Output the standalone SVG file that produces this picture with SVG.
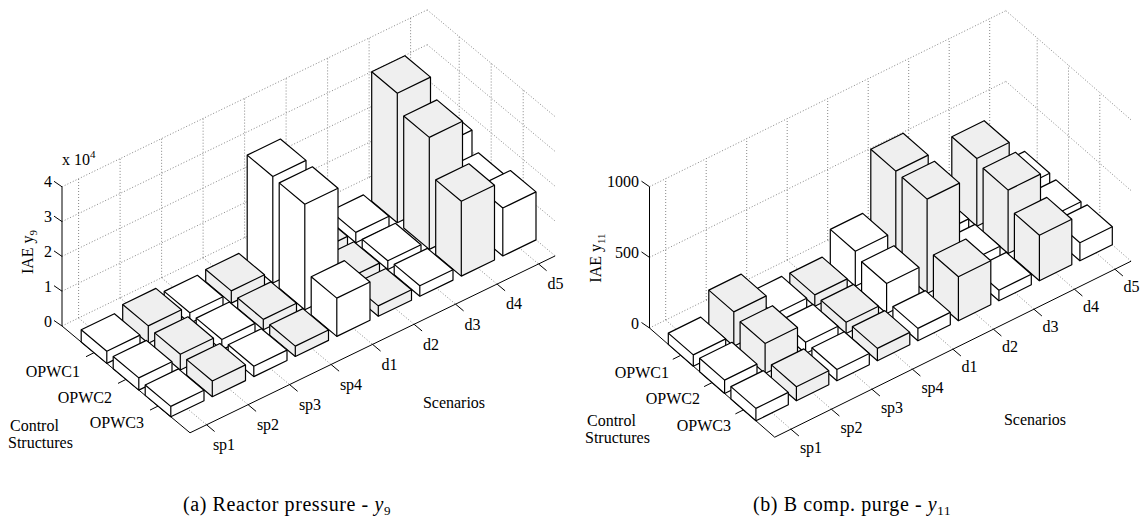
<svg xmlns="http://www.w3.org/2000/svg" width="1146" height="519" viewBox="0 0 1146 519">
<style>
.bg{fill:#ffffff}
.grid{fill:none;stroke:#707070;stroke-width:0.85;stroke-dasharray:1 2}
.ax{fill:none;stroke:#000;stroke-width:1}
.w{fill:#ffffff;stroke:#000;stroke-width:1.2;stroke-linejoin:round}
.g{fill:#efefef;stroke:#000;stroke-width:1.2;stroke-linejoin:round}
.e{fill:none;stroke:#000;stroke-width:1.2;stroke-linejoin:round}
text{font-family:"Liberation Serif","Times New Roman",serif;font-size:16px;fill:#000}
.m{text-anchor:middle}
.r{text-anchor:end}
.cap{font-size:20px;letter-spacing:0.6px}
</style>
<rect class="bg" x="0" y="0" width="1146" height="519"/>

<!-- ===== Chart (a) ===== -->
<g id="a-grid">
<path class="grid" d="M62,326 L427.2,149.1 M62,291.2 L427.2,114.3 M62,256.4 L427.2,79.5 M62,221.6 L427.2,44.7 M62,186.8 L427.2,9.9
M427.2,149.1 L555.2,255.9 M427.2,114.3 L555.2,221.1 M427.2,79.5 L555.2,186.3 M427.2,44.7 L555.2,151.5 M427.2,9.9 L555.2,116.7
M78.6,318 L78.6,178.8 M120.1,297.9 L120.1,158.7 M161.6,277.8 L161.6,138.6 M203.1,257.7 L203.1,118.5 M244.6,237.6 L244.6,98.4 M286.1,217.5 L286.1,78.3 M327.6,197.4 L327.6,58.2 M369.1,177.3 L369.1,38.1 M410.6,157.2 L410.6,18
M459.2,175.8 L459.2,36.6 M491.2,202.5 L491.2,63.3 M523.2,229.2 L523.2,90
M94,352.7 L459.2,175.8 M126,379.4 L491.2,202.5 M158,406.1 L523.2,229.2
M78.6,318 L206.6,424.8 M120.1,297.9 L248.1,404.7 M161.6,277.8 L289.6,384.6 M203.1,257.7 L331.1,364.5 M244.6,237.6 L372.6,344.4 M286.1,217.5 L414.1,324.3 M327.6,197.4 L455.6,304.2 M369.1,177.3 L497.1,284.1 M410.6,157.2 L538.6,264"/>
</g>
<g id="a-axes">
<path class="ax" d="M62,326 L62,186.8 M62,326 L190,432.8 L555.2,255.9
M62,326 l-8,-5.5 M62,291.2 l-8,-5.5 M62,256.4 l-8,-5.5 M62,221.6 l-8,-5.5 M62,186.8 l-8,-5.5
M94,352.7 l-8,4 M126,379.4 l-8,4 M158,406.1 l-8,4
M206.6,424.8 l8,6.7 M248.1,404.7 l8,6.7 M289.6,384.6 l8,6.7 M331.1,364.5 l8,6.7 M372.6,344.4 l8,6.7 M414.1,324.3 l8,6.7 M455.6,304.2 l8,6.7 M497.1,284.1 l8,6.7 M538.6,264 l8,6.7"/>
</g>
<g id="a-bars">
<g id="a-OPWC1-d5"><path class="w" d="M413.2,124.8 L446.4,108.7 L472,130.1 L472,186.5 L438.8,202.6 L413.2,181.2 Z"/><path class="e" d="M413.2,124.8 L438.8,146.2 L472,130.1 M438.8,146.2 L438.8,202.6"/></g>
<g id="a-OPWC1-d4"><path class="g" d="M371.7,71.8 L404.9,55.7 L430.5,77.1 L430.5,206.6 L397.3,222.7 L371.7,201.3 Z"/><path class="e" d="M371.7,71.8 L397.3,93.2 L430.5,77.1 M397.3,93.2 L397.3,222.7"/></g>
<g id="a-OPWC1-d3"><path class="w" d="M330.2,211 L363.4,194.9 L389,216.3 L389,226.7 L355.8,242.8 L330.2,221.4 Z"/><path class="e" d="M330.2,211 L355.8,232.4 L389,216.3 M355.8,232.4 L355.8,242.8"/></g>
<g id="a-OPWC1-d2"><path class="g" d="M288.7,231.1 L321.9,215 L347.5,236.4 L347.5,246.8 L314.3,262.9 L288.7,241.5 Z"/><path class="e" d="M288.7,231.1 L314.3,252.5 L347.5,236.4 M314.3,252.5 L314.3,262.9"/></g>
<g id="a-OPWC1-d1"><path class="w" d="M247.2,155.1 L280.4,139 L306,160.4 L306,266.9 L272.8,283 L247.2,261.6 Z"/><path class="e" d="M247.2,155.1 L272.8,176.5 L306,160.4 M272.8,176.5 L272.8,283"/></g>
<g id="a-OPWC1-sp4"><path class="g" d="M205.7,269.5 L238.9,253.4 L264.5,274.8 L264.5,287 L231.3,303.1 L205.7,281.7 Z"/><path class="e" d="M205.7,269.5 L231.3,290.9 L264.5,274.8 M231.3,290.9 L231.3,303.1"/></g>
<g id="a-OPWC1-sp3"><path class="w" d="M164.2,291.4 L197.4,275.3 L223,296.7 L223,307.1 L189.8,323.2 L164.2,301.8 Z"/><path class="e" d="M164.2,291.4 L189.8,312.8 L223,296.7 M189.8,312.8 L189.8,323.2"/></g>
<g id="a-OPWC1-sp2"><path class="g" d="M122.7,304.5 L155.9,288.4 L181.5,309.8 L181.5,327.2 L148.3,343.3 L122.7,321.9 Z"/><path class="e" d="M122.7,304.5 L148.3,325.9 L181.5,309.8 M148.3,325.9 L148.3,343.3"/></g>
<g id="a-OPWC1-sp1"><path class="w" d="M81.2,329.8 L114.4,313.7 L140,335.1 L140,347.3 L106.8,363.4 L81.2,342 Z"/><path class="e" d="M81.2,329.8 L106.8,351.2 L140,335.1 M106.8,351.2 L106.8,363.4"/></g>

<g id="a-OPWC2-d5"><path class="w" d="M445.2,168.9 L478.4,152.8 L504,174.2 L504,213.2 L470.8,229.3 L445.2,207.9 Z"/><path class="e" d="M445.2,168.9 L470.8,190.3 L504,174.2 M470.8,190.3 L470.8,229.3"/></g>
<g id="a-OPWC2-d4"><path class="g" d="M403.7,116 L436.9,99.9 L462.5,121.3 L462.5,233.3 L429.3,249.4 L403.7,228 Z"/><path class="e" d="M403.7,116 L429.3,137.4 L462.5,121.3 M429.3,137.4 L429.3,249.4"/></g>
<g id="a-OPWC2-d3"><path class="w" d="M362.2,239.4 L395.4,223.3 L421,244.7 L421,253.4 L387.8,269.5 L362.2,248.1 Z"/><path class="e" d="M362.2,239.4 L387.8,260.8 L421,244.7 M387.8,260.8 L387.8,269.5"/></g>
<g id="a-OPWC2-d2"><path class="g" d="M320.7,257.8 L353.9,241.7 L379.5,263.1 L379.5,273.5 L346.3,289.6 L320.7,268.2 Z"/><path class="e" d="M320.7,257.8 L346.3,279.2 L379.5,263.1 M346.3,279.2 L346.3,289.6"/></g>
<g id="a-OPWC2-d1"><path class="w" d="M279.2,182.9 L312.4,166.8 L338,188.2 L338,293.6 L304.8,309.7 L279.2,288.3 Z"/><path class="e" d="M279.2,182.9 L304.8,204.3 L338,188.2 M304.8,204.3 L304.8,309.7"/></g>
<g id="a-OPWC2-sp4"><path class="g" d="M237.7,298 L270.9,281.9 L296.5,303.3 L296.5,313.7 L263.3,329.8 L237.7,308.4 Z"/><path class="e" d="M237.7,298 L263.3,319.4 L296.5,303.3 M263.3,319.4 L263.3,329.8"/></g>
<g id="a-OPWC2-sp3"><path class="w" d="M196.2,318.1 L229.4,302 L255,323.4 L255,333.8 L221.8,349.9 L196.2,328.5 Z"/><path class="e" d="M196.2,318.1 L221.8,339.5 L255,323.4 M221.8,339.5 L221.8,349.9"/></g>
<g id="a-OPWC2-sp2"><path class="g" d="M154.7,332.9 L187.9,316.8 L213.5,338.2 L213.5,353.9 L180.3,370 L154.7,348.6 Z"/><path class="e" d="M154.7,332.9 L180.3,354.3 L213.5,338.2 M180.3,354.3 L180.3,370"/></g>
<g id="a-OPWC2-sp1"><path class="w" d="M113.2,356.5 L146.4,340.4 L172,361.8 L172,374 L138.8,390.1 L113.2,368.7 Z"/><path class="e" d="M113.2,356.5 L138.8,377.9 L172,361.8 M138.8,377.9 L138.8,390.1"/></g>

<g id="a-OPWC3-d5"><path class="w" d="M477.2,186.6 L510.4,170.5 L536,191.9 L536,239.9 L502.8,256 L477.2,234.6 Z"/><path class="e" d="M477.2,186.6 L502.8,208 L536,191.9 M502.8,208 L502.8,256"/></g>
<g id="a-OPWC3-d4"><path class="g" d="M435.7,179.9 L468.9,163.8 L494.5,185.2 L494.5,260 L461.3,276.1 L435.7,254.7 Z"/><path class="e" d="M435.7,179.9 L461.3,201.3 L494.5,185.2 M461.3,201.3 L461.3,276.1"/></g>
<g id="a-OPWC3-d3"><path class="w" d="M394.2,264.4 L427.4,248.4 L453,269.7 L453,280.1 L419.8,296.2 L394.2,274.8 Z"/><path class="e" d="M394.2,264.4 L419.8,285.8 L453,269.7 M419.8,285.8 L419.8,296.2"/></g>
<g id="a-OPWC3-d2"><path class="g" d="M352.7,284.5 L385.9,268.5 L411.5,289.8 L411.5,300.2 L378.3,316.3 L352.7,294.9 Z"/><path class="e" d="M352.7,284.5 L378.3,305.9 L411.5,289.8 M378.3,305.9 L378.3,316.3"/></g>
<g id="a-OPWC3-d1"><path class="w" d="M311.2,276.7 L344.4,260.6 L370,282 L370,320.3 L336.8,336.4 L311.2,315 Z"/><path class="e" d="M311.2,276.7 L336.8,298.1 L370,282 M336.8,298.1 L336.8,336.4"/></g>
<g id="a-OPWC3-sp4"><path class="g" d="M269.7,324.7 L302.9,308.6 L328.5,330 L328.5,340.4 L295.3,356.5 L269.7,335.1 Z"/><path class="e" d="M269.7,324.7 L295.3,346.1 L328.5,330 M295.3,346.1 L295.3,356.5"/></g>
<g id="a-OPWC3-sp3"><path class="w" d="M228.2,344.8 L261.4,328.7 L287,350.1 L287,360.5 L253.8,376.6 L228.2,355.2 Z"/><path class="e" d="M228.2,344.8 L253.8,366.2 L287,350.1 M253.8,366.2 L253.8,376.6"/></g>
<g id="a-OPWC3-sp2"><path class="g" d="M186.7,359.6 L219.9,343.5 L245.5,364.9 L245.5,380.6 L212.3,396.7 L186.7,375.3 Z"/><path class="e" d="M186.7,359.6 L212.3,381 L245.5,364.9 M212.3,381 L212.3,396.7"/></g>
<g id="a-OPWC3-sp1"><path class="w" d="M145.2,385 L178.4,368.9 L204,390.3 L204,400.7 L170.8,416.8 L145.2,395.4 Z"/><path class="e" d="M145.2,385 L170.8,406.4 L204,390.3 M170.8,406.4 L170.8,416.8"/></g>
</g>
<g id="a-labels">
<text class="r" x="52" y="327">0</text>
<text class="r" x="52" y="292">1</text>
<text class="r" x="52" y="257">2</text>
<text class="r" x="52" y="222">3</text>
<text class="r" x="52" y="187">4</text>
<text x="62" y="165">x 10<tspan font-size="11" dy="-7">4</tspan></text>
<text class="m" transform="translate(33,252) rotate(-90)">IAE y<tspan font-size="11" dy="4">9</tspan></text>
<text class="r" x="80" y="377">OPWC1</text>
<text class="r" x="112" y="403">OPWC2</text>
<text class="r" x="144" y="428">OPWC3</text>
<text x="10" y="431">Control</text>
<text x="8" y="448">Structures</text>
<text class="m" x="224" y="450">sp1</text>
<text class="m" x="268" y="430">sp2</text>
<text class="m" x="310" y="410">sp3</text>
<text class="m" x="351" y="390">sp4</text>
<text class="m" x="389.5" y="370">d1</text>
<text class="m" x="431" y="349.5">d2</text>
<text class="m" x="472.5" y="329.5">d3</text>
<text class="m" x="514" y="309">d4</text>
<text class="m" x="555.5" y="289">d5</text>
<text class="m" x="454" y="408">Scenarios</text>
<text class="cap m" x="287" y="511">(a) Reactor pressure - <tspan font-style="italic">y</tspan><tspan font-size="13" dy="4">9</tspan></text>
</g>

<!-- ===== Chart (b) ===== -->
<g id="b-grid">
<path class="grid" d="M649.5,328 L1005.9,152 M649.5,257.4 L1005.9,81.4 M649.5,186.7 L1005.9,10.7
M1005.9,152 L1131.1,261.2 M1005.9,81.4 L1131.1,190.6 M1005.9,10.7 L1131.1,119.9
M665.7,320 L665.7,178.7 M706.2,300 L706.2,158.7 M746.7,280 L746.7,138.7 M787.2,260 L787.2,118.7 M827.7,240 L827.7,98.7 M868.2,220 L868.2,78.7 M908.7,200 L908.7,58.7 M949.2,180 L949.2,38.7 M989.7,160 L989.7,18.7
M1037.2,179.3 L1037.2,38 M1068.5,206.6 L1068.5,65.3 M1099.8,233.9 L1099.8,92.6
M680.8,355.3 L1037.2,179.3 M712.1,382.6 L1068.5,206.6 M743.4,409.9 L1099.8,233.9
M665.7,320 L790.9,429.2 M706.2,300 L831.4,409.2 M746.7,280 L871.9,389.2 M787.2,260 L912.4,369.2 M827.7,240 L952.9,349.2 M868.2,220 L993.4,329.2 M908.7,200 L1033.9,309.2 M949.2,180 L1074.4,289.2 M989.7,160 L1114.9,269.2"/>
</g>
<g id="b-axes">
<path class="ax" d="M649.5,328 L649.5,186.7 M649.5,328 L774.7,437.2 L1131.1,261.2
M649.5,328 l-8,-5.5 M649.5,257.4 l-8,-5.5 M649.5,186.7 l-8,-5.5
M680.8,355.3 l-8,4 M712.1,382.6 l-8,4 M743.4,409.9 l-8,4
M790.9,429.2 l8,6.8 M831.4,409.2 l8,6.8 M871.9,389.2 l8,6.8 M912.4,369.2 l8,6.8 M952.9,349.2 l8,6.8 M993.4,329.2 l8,6.8 M1033.9,309.2 l8,6.8 M1074.4,289.2 l8,6.8 M1114.9,269.2 l8,6.8"/>
</g>
<g id="b-bars">
<g id="b-OPWC1-d5"><path class="w" d="M992.3,167.4 L1024.7,151.4 L1049.7,173.2 L1049.7,190.2 L1017.3,206.2 L992.3,184.4 Z"/><path class="e" d="M992.3,167.4 L1017.3,189.2 L1049.7,173.2 M1017.3,189.2 L1017.3,206.2"/></g>
<g id="b-OPWC1-d4"><path class="g" d="M951.8,136.7 L984.2,120.7 L1009.2,142.5 L1009.2,210.2 L976.8,226.2 L951.8,204.4 Z"/><path class="e" d="M951.8,136.7 L976.8,158.5 L1009.2,142.5 M976.8,158.5 L976.8,226.2"/></g>
<g id="b-OPWC1-d3"><path class="w" d="M911.3,213.1 L943.7,197.1 L968.7,218.9 L968.7,230.2 L936.3,246.2 L911.3,224.4 Z"/><path class="e" d="M911.3,213.1 L936.3,234.9 L968.7,218.9 M936.3,234.9 L936.3,246.2"/></g>
<g id="b-OPWC1-d2"><path class="g" d="M870.8,149.3 L903.2,133.3 L928.2,155.1 L928.2,250.2 L895.8,266.2 L870.8,244.4 Z"/><path class="e" d="M870.8,149.3 L895.8,171.1 L928.2,155.1 M895.8,171.1 L895.8,266.2"/></g>
<g id="b-OPWC1-d1"><path class="w" d="M830.3,229.4 L862.7,213.4 L887.7,235.2 L887.7,270.2 L855.3,286.2 L830.3,264.4 Z"/><path class="e" d="M830.3,229.4 L855.3,251.2 L887.7,235.2 M855.3,251.2 L855.3,286.2"/></g>
<g id="b-OPWC1-sp4"><path class="g" d="M789.8,273.1 L822.2,257.1 L847.2,278.9 L847.2,290.2 L814.8,306.2 L789.8,284.4 Z"/><path class="e" d="M789.8,273.1 L814.8,294.9 L847.2,278.9 M814.8,294.9 L814.8,306.2"/></g>
<g id="b-OPWC1-sp3"><path class="w" d="M749.3,292.4 L781.7,276.4 L806.7,298.2 L806.7,310.2 L774.3,326.2 L749.3,304.4 Z"/><path class="e" d="M749.3,292.4 L774.3,314.2 L806.7,298.2 M774.3,314.2 L774.3,326.2"/></g>
<g id="b-OPWC1-sp2"><path class="g" d="M708.8,290.1 L741.2,274.1 L766.2,295.9 L766.2,330.2 L733.8,346.2 L708.8,324.4 Z"/><path class="e" d="M708.8,290.1 L733.8,311.9 L766.2,295.9 M733.8,311.9 L733.8,346.2"/></g>
<g id="b-OPWC1-sp1"><path class="w" d="M668.3,333.1 L700.7,317.1 L725.7,338.9 L725.7,350.2 L693.3,366.2 L668.3,344.4 Z"/><path class="e" d="M668.3,333.1 L693.3,354.9 L725.7,338.9 M693.3,354.9 L693.3,366.2"/></g>

<g id="b-OPWC2-d5"><path class="w" d="M1023.6,195.9 L1056,179.9 L1081,201.7 L1081,217.5 L1048.6,233.5 L1023.6,211.7 Z"/><path class="e" d="M1023.6,195.9 L1048.6,217.7 L1081,201.7 M1048.6,217.7 L1048.6,233.5"/></g>
<g id="b-OPWC2-d4"><path class="g" d="M983.1,168.3 L1015.5,152.3 L1040.5,174.1 L1040.5,237.5 L1008.1,253.5 L983.1,231.7 Z"/><path class="e" d="M983.1,168.3 L1008.1,190.1 L1040.5,174.1 M1008.1,190.1 L1008.1,253.5"/></g>
<g id="b-OPWC2-d3"><path class="w" d="M942.6,240.4 L975,224.4 L1000,246.2 L1000,257.5 L967.6,273.5 L942.6,251.7 Z"/><path class="e" d="M942.6,240.4 L967.6,262.2 L1000,246.2 M967.6,262.2 L967.6,273.5"/></g>
<g id="b-OPWC2-d2"><path class="g" d="M902.1,177.3 L934.5,161.3 L959.5,183.1 L959.5,277.5 L927.1,293.5 L902.1,271.7 Z"/><path class="e" d="M902.1,177.3 L927.1,199.1 L959.5,183.1 M927.1,199.1 L927.1,293.5"/></g>
<g id="b-OPWC2-d1"><path class="w" d="M861.6,261.7 L894,245.7 L919,267.5 L919,297.5 L886.6,313.5 L861.6,291.7 Z"/><path class="e" d="M861.6,261.7 L886.6,283.5 L919,267.5 M886.6,283.5 L886.6,313.5"/></g>
<g id="b-OPWC2-sp4"><path class="g" d="M821.1,300.4 L853.5,284.4 L878.5,306.2 L878.5,317.5 L846.1,333.5 L821.1,311.7 Z"/><path class="e" d="M821.1,300.4 L846.1,322.2 L878.5,306.2 M846.1,322.2 L846.1,333.5"/></g>
<g id="b-OPWC2-sp3"><path class="w" d="M780.6,320.4 L813,304.4 L838,326.2 L838,337.5 L805.6,353.5 L780.6,331.7 Z"/><path class="e" d="M780.6,320.4 L805.6,342.2 L838,326.2 M805.6,342.2 L805.6,353.5"/></g>
<g id="b-OPWC2-sp2"><path class="g" d="M740.1,321.7 L772.5,305.7 L797.5,327.5 L797.5,357.5 L765.1,373.5 L740.1,351.7 Z"/><path class="e" d="M740.1,321.7 L765.1,343.5 L797.5,327.5 M765.1,343.5 L765.1,373.5"/></g>
<g id="b-OPWC2-sp1"><path class="w" d="M699.6,358.3 L732,342.3 L757,364.1 L757,377.5 L724.6,393.5 L699.6,371.7 Z"/><path class="e" d="M699.6,358.3 L724.6,380.1 L757,364.1 M724.6,380.1 L724.6,393.5"/></g>

<g id="b-OPWC3-d5"><path class="w" d="M1054.9,220.9 L1087.3,204.9 L1112.3,226.7 L1112.3,244.8 L1079.9,260.8 L1054.9,239 Z"/><path class="e" d="M1054.9,220.9 L1079.9,242.7 L1112.3,226.7 M1079.9,242.7 L1079.9,260.8"/></g>
<g id="b-OPWC3-d4"><path class="g" d="M1014.4,213.4 L1046.8,197.4 L1071.8,219.2 L1071.8,264.8 L1039.4,280.8 L1014.4,259 Z"/><path class="e" d="M1014.4,213.4 L1039.4,235.2 L1071.8,219.2 M1039.4,235.2 L1039.4,280.8"/></g>
<g id="b-OPWC3-d3"><path class="w" d="M973.9,268.4 L1006.3,252.4 L1031.3,274.2 L1031.3,284.8 L998.9,300.8 L973.9,279 Z"/><path class="e" d="M973.9,268.4 L998.9,290.2 L1031.3,274.2 M998.9,290.2 L998.9,300.8"/></g>
<g id="b-OPWC3-d2"><path class="g" d="M933.4,255 L965.8,239 L990.8,260.8 L990.8,304.8 L958.4,320.8 L933.4,299 Z"/><path class="e" d="M933.4,255 L958.4,276.8 L990.8,260.8 M958.4,276.8 L958.4,320.8"/></g>
<g id="b-OPWC3-d1"><path class="w" d="M892.9,306.6 L925.3,290.6 L950.3,312.4 L950.3,324.8 L917.9,340.8 L892.9,319 Z"/><path class="e" d="M892.9,306.6 L917.9,328.4 L950.3,312.4 M917.9,328.4 L917.9,340.8"/></g>
<g id="b-OPWC3-sp4"><path class="g" d="M852.4,326.6 L884.8,310.6 L909.8,332.4 L909.8,344.8 L877.4,360.8 L852.4,339 Z"/><path class="e" d="M852.4,326.6 L877.4,348.4 L909.8,332.4 M877.4,348.4 L877.4,360.8"/></g>
<g id="b-OPWC3-sp3"><path class="w" d="M811.9,347.7 L844.3,331.7 L869.3,353.5 L869.3,364.8 L836.9,380.8 L811.9,359 Z"/><path class="e" d="M811.9,347.7 L836.9,369.5 L869.3,353.5 M836.9,369.5 L836.9,380.8"/></g>
<g id="b-OPWC3-sp2"><path class="g" d="M771.4,364.9 L803.8,348.9 L828.8,370.7 L828.8,384.8 L796.4,400.8 L771.4,379 Z"/><path class="e" d="M771.4,364.9 L796.4,386.7 L828.8,370.7 M796.4,386.7 L796.4,400.8"/></g>
<g id="b-OPWC3-sp1"><path class="w" d="M730.9,386.6 L763.3,370.6 L788.3,392.4 L788.3,404.8 L755.9,420.8 L730.9,399 Z"/><path class="e" d="M730.9,386.6 L755.9,408.4 L788.3,392.4 M755.9,408.4 L755.9,420.8"/></g>
</g>
<g id="b-labels">
<text class="r" x="639" y="329">0</text>
<text class="r" x="639" y="258">500</text>
<text class="r" x="639" y="187">1000</text>
<text class="m" transform="translate(601,258) rotate(-90)">IAE y<tspan font-size="11" dy="4">11</tspan></text>
<text class="r" x="669" y="378">OPWC1</text>
<text class="r" x="700" y="404">OPWC2</text>
<text class="r" x="731" y="431">OPWC3</text>
<text x="587" y="426">Control</text>
<text x="585" y="443">Structures</text>
<text class="m" x="811" y="453">sp1</text>
<text class="m" x="851.5" y="433">sp2</text>
<text class="m" x="892" y="413">sp3</text>
<text class="m" x="932.5" y="393">sp4</text>
<text class="m" x="969.5" y="372">d1</text>
<text class="m" x="1010" y="352">d2</text>
<text class="m" x="1050.5" y="332">d3</text>
<text class="m" x="1091" y="312">d4</text>
<text class="m" x="1131.5" y="292">d5</text>
<text class="m" x="1035" y="425">Scenarios</text>
<text class="cap m" x="852" y="511">(b) B comp. purge - <tspan font-style="italic">y</tspan><tspan font-size="13" dy="4">11</tspan></text>
</g>
</svg>
